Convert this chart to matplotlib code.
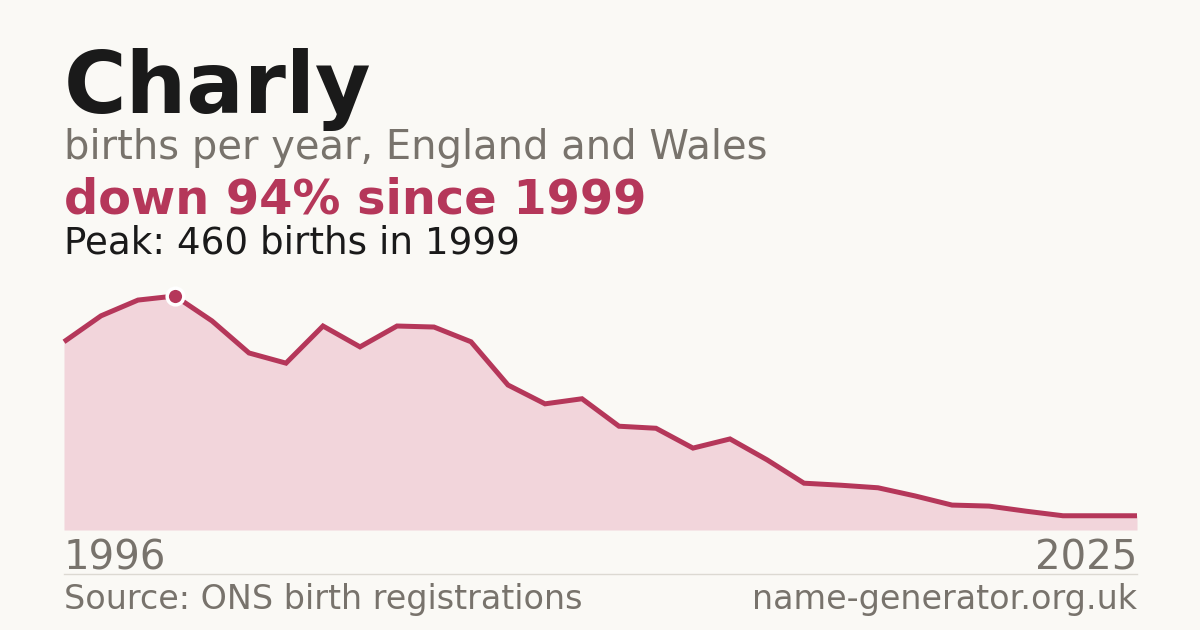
import matplotlib
matplotlib.use("Agg")
import matplotlib.pyplot as plt

plt.rcParams["font.family"] = ["DejaVu Sans"]

years = list(range(1996, 2026))
births = [370, 421, 452, 460, 411, 348, 328, 401, 360, 401, 399, 370, 285, 248, 258,
          204, 200, 161, 179, 138, 92, 88, 83, 67, 49, 47, 37, 28, 28, 28]

name = "Charly"
subtitle = "births per year, England and Wales"
headline = "down 94% since 1999"
peak_text = "Peak: 460 births in 1999"
source = "Source: ONS birth registrations"
site = "name-generator.org.uk"

BG = "#faf9f5"
RED = "#b5375a"
FILL = "#f2d5db"
GREY = "#78736c"
DARK = "#1a1a1a"

W, H = 1200, 630
fig = plt.figure(figsize=(12, 6.3), dpi=100, facecolor=BG)

def fy(py):
    return 1 - py / H

ax_left, ax_right = 64 / W, 1137 / W
ax_bottom, ax_top = fy(530), fy(296)
ax = fig.add_axes([ax_left, ax_bottom, ax_right - ax_left, ax_top - ax_bottom])
ax.set_facecolor("none")
ax.fill_between(years, births, 0, color=FILL, lw=0)
ax.plot(years, births, color=RED, lw=3.6, solid_joinstyle="miter", solid_capstyle="butt", clip_on=False)
pi = births.index(max(births))
ax.plot(years[pi], births[pi], "o", ms=12, color=RED, mec="white", mew=2.5, clip_on=False, zorder=5)
ax.set_xlim(years[0], years[-1])
ax.set_ylim(0, max(births))
ax.axis("off")

fig.text(64 / W, fy(113), name, fontsize=61.5, fontweight="bold", color=DARK, va="baseline", ha="left")
fig.text(64 / W, fy(159), subtitle, fontsize=28.8, color=GREY, va="baseline", ha="left")
fig.text(64 / W, fy(214), headline, fontsize=34.5, fontweight="bold", color=RED, va="baseline", ha="left")
fig.text(64 / W, fy(253), peak_text, fontsize=26.8, color=DARK, va="baseline", ha="left")

fig.text(64 / W, fy(569), str(years[0]), fontsize=29, color=GREY, va="baseline", ha="left")
fig.text(1137 / W, fy(569), str(years[-1]), fontsize=29, color=GREY, va="baseline", ha="right")
fig.add_artist(plt.Line2D([64 / W, 1137 / W], [fy(574), fy(574)], color="#dcd9d2", lw=1))
fig.text(64 / W, fy(609), source, fontsize=24, color=GREY, va="baseline", ha="left")
fig.text(1137 / W, fy(609), site, fontsize=24, color=GREY, va="baseline", ha="right")

fig.savefig("out.png", dpi=100, facecolor=BG)
